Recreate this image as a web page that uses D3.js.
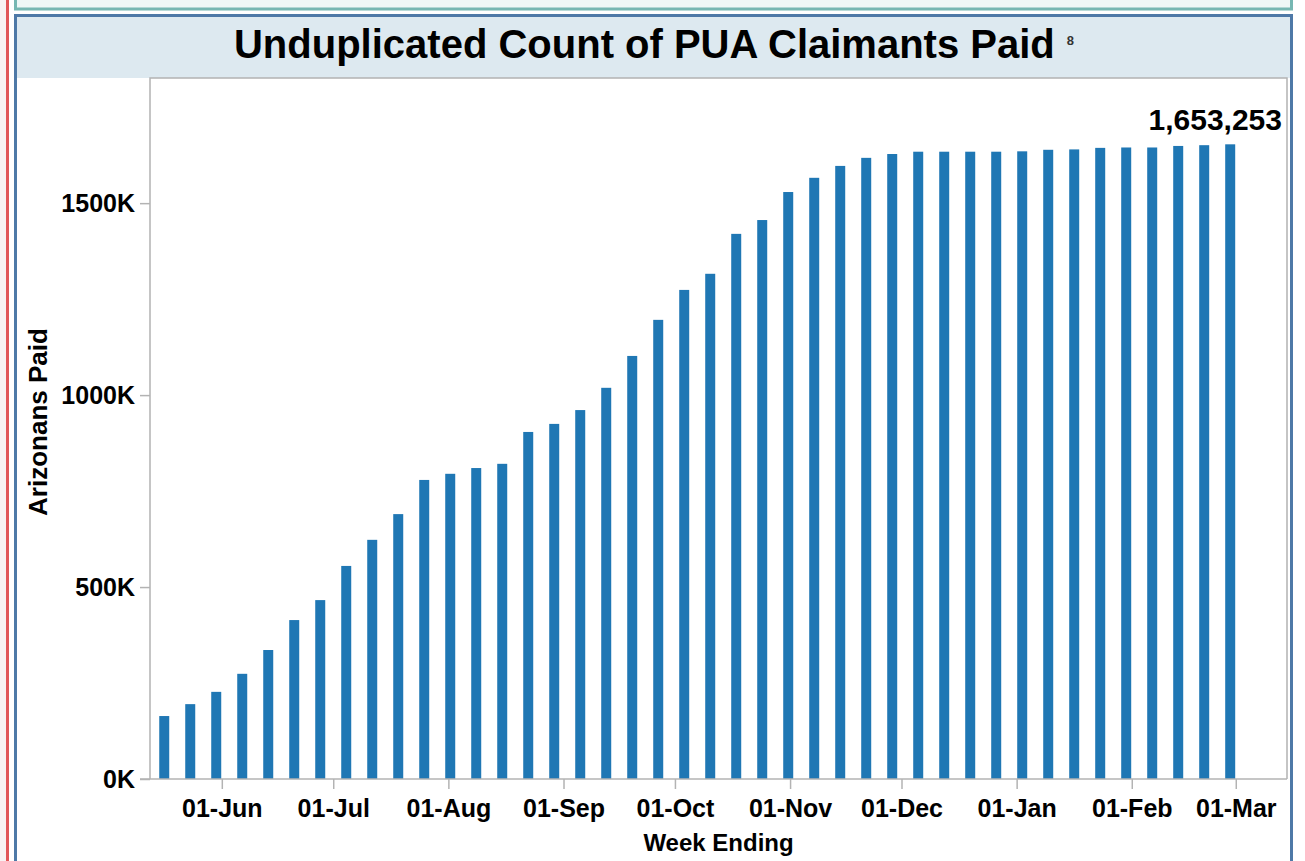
<!DOCTYPE html>
<html>
<head>
<meta charset="utf-8">
<script src="https://cdn.jsdelivr.net/npm/d3@7"></script>
<style>
  body { margin: 0; background: #ffffff; }
  svg { display: block; font-family: Arial, "Liberation Sans", sans-serif; }
</style>
</head>
<body>
<svg width="1305" height="861"></svg>
<script>
//*
//* Data
//*

var weekEnding = [
	"2020-05-16", "2020-05-23", "2020-05-30",
	"2020-06-06", "2020-06-13", "2020-06-20", "2020-06-27",
	"2020-07-04", "2020-07-11", "2020-07-18", "2020-07-25",
	"2020-08-01", "2020-08-08", "2020-08-15", "2020-08-22", "2020-08-29",
	"2020-09-05", "2020-09-12", "2020-09-19", "2020-09-26",
	"2020-10-03", "2020-10-10", "2020-10-17", "2020-10-24", "2020-10-31",
	"2020-11-07", "2020-11-14", "2020-11-21", "2020-11-28",
	"2020-12-05", "2020-12-12", "2020-12-19", "2020-12-26",
	"2021-01-02", "2021-01-09", "2021-01-16", "2021-01-23", "2021-01-30",
	"2021-02-06", "2021-02-13", "2021-02-20", "2021-02-27"
];

var claimantsPaid = [
	164000, 195000, 227000,
	274000, 336000, 414000, 466000,
	555000, 623000, 690000, 779000,
	795000, 810000, 821000, 904000, 925000,
	961000, 1019000, 1102000, 1196000,
	1274000, 1316000, 1420000, 1456000, 1529000,
	1566000, 1597000, 1618000, 1628000,
	1634000, 1634000, 1634000, 1634000,
	1635000, 1639000, 1640000, 1644000, 1645000,
	1645000, 1649000, 1651000, 1653253
];

var yTicks = [0, 500000, 1000000, 1500000];
var xDomain = ["2020-05-12T16:00Z", "2021-03-14T19:00Z"];
var yMax = 1826000;

var titleText = "Unduplicated Count of PUA Claimants Paid";
var titleNote = "8";
var xTitle = "Week Ending";
var yTitle = "Arizonans Paid";

//*
//* Layout
//*

var svg = d3.select("svg");
var plot = { left: 150, right: 1287, top: 78, bottom: 779 };
var axisColor = "#b3b3b3";
var barColor = "#1f77b4";
var barWidth = 10;

var parse = d3.utcParse("%Y-%m-%d");
var data = weekEnding.map(function(d, i) {
	return { date: parse(d), value: claimantsPaid[i] };
});

var x = d3.scaleUtc()
	.domain(xDomain.map(function(d) { return new Date(d); }))
	.range([plot.left, plot.right]);

var y = d3.scaleLinear()
	.domain([0, yMax])
	.range([plot.bottom, plot.top]);

/* dashboard frames */
svg.append("rect")
	.attr("x", 0).attr("y", 0)
	.attr("width", 6).attr("height", 861)
	.attr("fill", "#f8f3f3");
svg.append("rect")
	.attr("x", 6).attr("y", 0)
	.attr("width", 3).attr("height", 861)
	.attr("fill", "#e15759");

svg.append("rect")
	.attr("x", 15.5).attr("y", -5)
	.attr("width", 1276).attr("height", 14)
	.attr("fill", "#eef7f6")
	.attr("stroke", "#76b7b2")
	.attr("stroke-width", 3);

svg.append("rect")
	.attr("x", 15.5).attr("y", 15.5)
	.attr("width", 1276).attr("height", 900)
	.attr("fill", "#ffffff")
	.attr("stroke", "#4e79a7")
	.attr("stroke-width", 3);

svg.append("rect")
	.attr("x", 17).attr("y", 17)
	.attr("width", 1273).attr("height", 61)
	.attr("fill", "#dde9f0");

/* title */
var title = svg.append("text")
	.attr("x", 654)
	.attr("y", 58)
	.attr("text-anchor", "middle")
	.attr("font-size", 40)
	.attr("font-weight", "bold")
	.attr("fill", "#000");
title.append("tspan").text(titleText);
title.append("tspan")
	.attr("dx", 12)
	.attr("dy", -13)
	.attr("font-size", 13)
	.attr("fill", "#333")
	.text(titleNote);

/* plot frame */
svg.append("path")
	.attr("d", "M" + plot.left + "," + plot.bottom + "V" + plot.top + "H" + plot.right + "V" + plot.bottom)
	.attr("fill", "none")
	.attr("stroke", axisColor)
	.attr("stroke-width", 1.5);

/* bars */
svg.selectAll("rect.bar")
	.data(data)
	.enter()
	.append("rect")
	.attr("class", "bar")
	.attr("x", function(d) { return x(d3.utcHour.offset(d.date, 12)) - barWidth / 2; })
	.attr("y", function(d) { return y(d.value); })
	.attr("width", barWidth)
	.attr("height", function(d) { return y(0) - y(d.value); })
	.attr("fill", barColor);

/* axes */
var yAxis = svg.append("g")
	.attr("transform", "translate(" + plot.left + ",0)")
	.call(d3.axisLeft(y)
		.tickValues(yTicks)
		.tickSize(10)
		.tickPadding(5)
		.tickFormat(function(d) { return (d / 1000) + "K"; }));

var xAxis = svg.append("g")
	.attr("transform", "translate(0," + plot.bottom + ")")
	.call(d3.axisBottom(x)
		.ticks(d3.utcMonth.every(1))
		.tickSize(10)
		.tickPadding(10)
		.tickFormat(d3.utcFormat("%d-%b")));

[yAxis, xAxis].forEach(function(g) {
	g.select(".domain").remove();
	g.selectAll(".tick line")
		.attr("stroke", axisColor)
		.attr("stroke-width", 1.5);
	g.selectAll(".tick text")
		.attr("font-family", "Arial, 'Liberation Sans', sans-serif")
		.attr("font-size", 25)
		.attr("font-weight", "bold")
		.attr("fill", "#000");
});

svg.append("line")
	.attr("x1", 140).attr("x2", plot.right)
	.attr("y1", plot.bottom).attr("y2", plot.bottom)
	.attr("stroke", axisColor)
	.attr("stroke-width", 1.5);

/* axis titles */
svg.append("text")
	.attr("x", (plot.left + plot.right) / 2)
	.attr("y", 851)
	.attr("text-anchor", "middle")
	.attr("font-size", 24)
	.attr("font-weight", "bold")
	.attr("fill", "#000")
	.text(xTitle);

svg.append("text")
	.attr("transform", "translate(47,422) rotate(-90)")
	.attr("text-anchor", "middle")
	.attr("font-size", 26)
	.attr("font-weight", "bold")
	.attr("fill", "#000")
	.text(yTitle);

/* last value label */
var last = data[data.length - 1];
svg.append("text")
	.attr("x", plot.right - 5)
	.attr("y", y(last.value) - 14)
	.attr("text-anchor", "end")
	.attr("font-size", 30)
	.attr("font-weight", "bold")
	.attr("fill", "#000")
	.text(d3.format(",")(last.value));
</script>
</body>
</html>
